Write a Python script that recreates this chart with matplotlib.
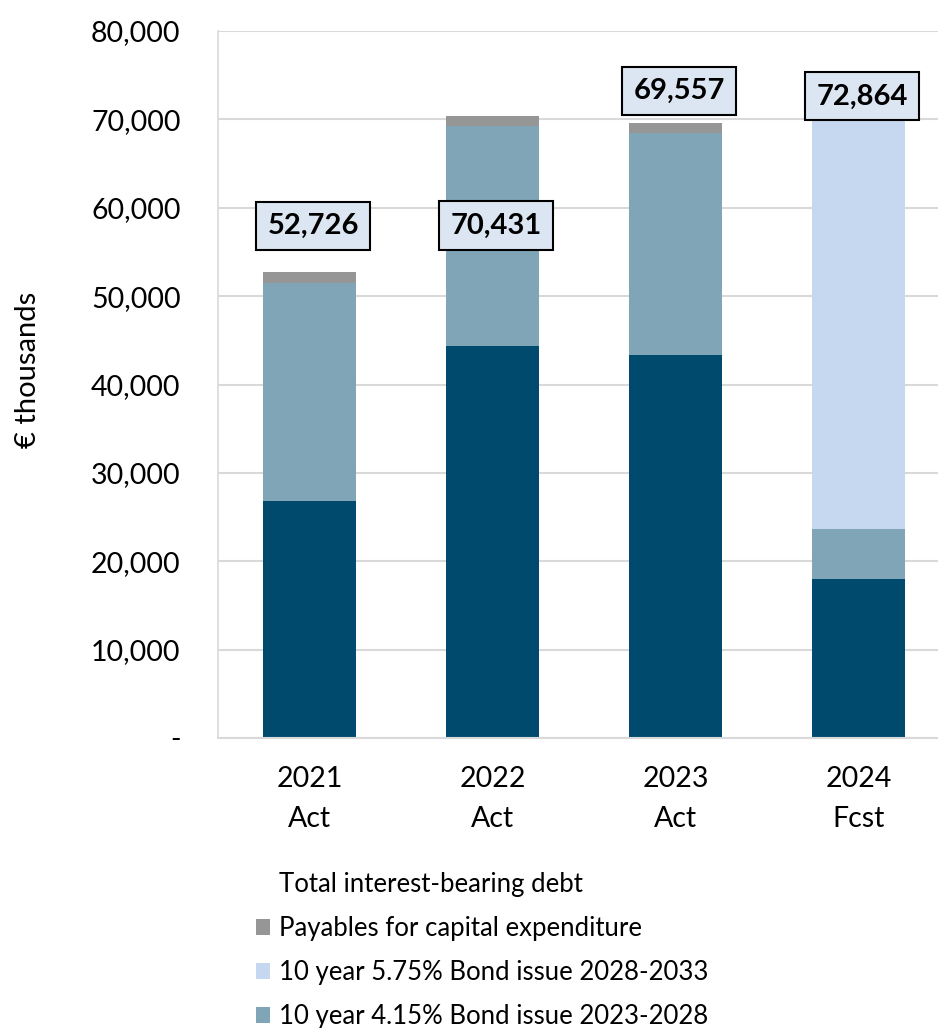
import numpy as np
import matplotlib.pyplot as plt
from matplotlib.patches import Rectangle

plt.rcParams['font.family'] = ['Lato', 'DejaVu Sans']

years = ['2021\nAct', '2022\nAct', '2023\nAct', '2024\nFcst']
loans = [26810, 44340, 43330, 17990]
bond_415 = [24660, 24890, 25110, 5650]
bond_575 = [0, 0, 0, 49224]
payables = [1256, 1201, 1117, 0]
totals = [52726, 70431, 69557, 72864]
label_y = [57900, 58000, 73200, 72600]

c_dark = '#004a6e'
c_mid = '#7fa5b7'
c_light = '#c6d8ef'
c_gray = '#969696'

fig = plt.figure(figsize=(9.38, 10.28), dpi=100)
ax = fig.add_axes([218 / 938, 1 - 738 / 1028, 720 / 938, 707 / 1028])

x = np.arange(len(years))
w = 0.503
b1 = ax.bar(x, loans, w, color=c_dark, zorder=2)
bottom = np.array(loans)
b2 = ax.bar(x, bond_415, w, bottom=bottom, color=c_mid, zorder=2)
bottom = bottom + np.array(bond_415)
b3 = ax.bar(x, bond_575, w, bottom=bottom, color=c_light, zorder=2)
bottom = bottom + np.array(bond_575)
b4 = ax.bar(x, payables, w, bottom=bottom, color=c_gray, zorder=2)

for i, t in enumerate(totals):
    ax.text(x[i] + 0.02, label_y[i], f'{t:,}', ha='center', va='center', fontsize=21,
            fontweight='bold', zorder=5,
            bbox=dict(boxstyle='square,pad=0.38', fc='#dce6f2', ec='black', lw=1.5))

ax.set_xlim(-0.5, -0.5 + 720 / 183)
ax.set_ylim(0, 80000)
ax.set_yticks(np.arange(0, 80001, 10000))
ax.set_yticklabels(['-'] + [f'{v:,}' for v in range(10000, 80001, 10000)])
ax.set_xticks(x)
ax.set_xticklabels(years, linespacing=1.7)
ax.tick_params(axis='both', length=0, labelsize=20.5)
ax.tick_params(axis='y', pad=27)
ax.tick_params(axis='x', pad=20)
ax.grid(axis='y', color='#d9d9d9', lw=1.5, zorder=0)
for s in ['top', 'right']:
    ax.spines[s].set_visible(False)
ax.spines['left'].set_color('#d9d9d9')
ax.spines['bottom'].set_color('#d9d9d9')
ax.spines['left'].set_linewidth(1.2)
ax.spines['bottom'].set_linewidth(1.5)
ax.set_ylabel('€ thousands', fontsize=21)
ax.yaxis.set_label_coords(-0.246, 0.52)

blank = Rectangle((0, 0), 1, 1, visible=False)
handles = [blank, b4[0], b3[0], b2[0]]
labels = ['Total interest-bearing debt', 'Payables for capital expenditure',
          '10 year 5.75% Bond issue 2028-2033', '10 year 4.15% Bond issue 2023-2028']
fig.legend(handles, labels, loc='upper left', bbox_to_anchor=(256 / 938, 1 - 872 / 1028),
           frameon=False, fontsize=18.5, handlelength=0.55, handleheight=0.55,
           handletextpad=0.35, labelspacing=0.74, borderaxespad=0, borderpad=0)

fig.savefig('out.png', dpi=100)
